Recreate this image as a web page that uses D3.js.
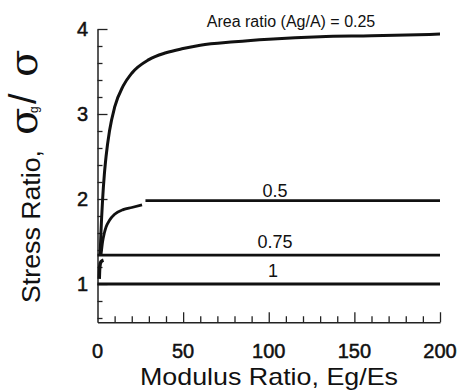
<!DOCTYPE html>
<html>
<head>
<meta charset="utf-8">
<script src="https://cdn.jsdelivr.net/npm/d3@7"></script>
<style>
  body { margin: 0; background: #fff; }
  text { font-family: "Liberation Sans", Arial, sans-serif; fill: #111; }
  .tick_label { stroke: #111; stroke-width: 0.5px; }
</style>
</head>
<body>
<div id="chart"></div>
<script>
// chart size
const width = 458;
const height = 392;

// data
const labels = ["Area ratio (Ag/A) = 0.25", "0.5", "0.75", "1"];

const modulus025 = [1.5, 2, 3, 4, 5, 7, 10, 15, 20, 30, 40, 50, 60, 80, 100, 130, 160, 200];
const stress025 = [1.33, 1.6, 2.0, 2.29, 2.5, 2.8, 3.08, 3.33, 3.48, 3.64, 3.72, 3.77, 3.81, 3.85, 3.88, 3.91, 3.92, 3.94];

const modulus05a = [2, 3, 4, 5, 7, 10, 15, 20, 26];
const stress05a = [1.33, 1.5, 1.6, 1.67, 1.75, 1.82, 1.875, 1.9, 1.93];
const modulus05b = [28, 200];
const stress05b = [1.98, 1.98];

const modulus075 = [0, 200];
const stress075 = [1.34, 1.34];
const modulus075s = [1, 1.3, 2, 3.5];
const stress075s = [1.06, 1.2, 1.26, 1.28];

const modulus1 = [0, 200];
const stress1 = [1, 1];

const xTickLabels = [0, 50, 100, 150, 200];
const yTickLabels = [1, 2, 3, 4];

var svg = d3.select("#chart").append("svg")
    .attr("width", width).attr("height", height);

var x = d3.scaleLinear().domain([0, 200]).range([97.5, 440]);
var y = d3.scaleLinear().domain([0.55, 4]).range([322.25, 29]);

// axes: ticks point inward
var xAxis = svg.append("g").attr("transform", "translate(0," + y(0.55) + ")");
xAxis.call(d3.axisTop(x).tickValues(d3.range(10, 201, 10))
    .tickSize(0).tickFormat(""));
xAxis.selectAll(".tick line")
    .attr("y2", d => d % 50 === 0 ? -10 : -6)
    .attr("stroke", "#222").attr("stroke-width", 1.3);
xAxis.select(".domain").attr("stroke", "#222").attr("stroke-width", 1.5);

var yAxis = svg.append("g").attr("transform", "translate(" + x(0) + ",0)");
yAxis.call(d3.axisRight(y).tickValues(d3.range(0.6, 4.01, 0.2).map(v => +v.toFixed(1)))
    .tickSize(0).tickFormat(""));
yAxis.selectAll(".tick line")
    .attr("x2", d => Math.abs(d - Math.round(d)) < 0.01 ? 10 : 5)
    .attr("stroke", "#222").attr("stroke-width", 1.3);
yAxis.select(".domain").attr("stroke", "#222").attr("stroke-width", 1.5);

// tick labels
svg.append("g").selectAll("text")
    .data(xTickLabels).enter().append("text")
    .attr("class", "tick_label")
    .attr("x", d => x(d)).attr("y", 358)
    .attr("text-anchor", "middle")
    .attr("font-size", 20)
    .text(d => d);

svg.append("g").selectAll("text")
    .data(yTickLabels).enter().append("text")
    .attr("class", "tick_label")
    .attr("x", 88).attr("y", d => y(d) + 7)
    .attr("text-anchor", "end")
    .attr("font-size", 20)
    .text(d => d);

// curves
var line = d3.line()
    .x(d => x(d[0]))
    .y(d => y(d[1]))
    .curve(d3.curveMonotoneX);

var series = [
    [modulus025, stress025, 3],
    [modulus05a, stress05a, 2.8],
    [modulus05b, stress05b, 2.8],
    [modulus075, stress075, 2.8],
    [modulus075s, stress075s, 3.5],
    [modulus1, stress1, 2.8]
];

svg.append("g").selectAll("path")
    .data(series).enter().append("path")
    .attr("d", d => line(d3.zip(d[0], d[1])))
    .attr("fill", "none")
    .attr("stroke", "#111")
    .attr("stroke-width", d => d[2]);

// curve labels
svg.append("text").attr("x", 291).attr("y", 27)
    .attr("text-anchor", "middle").attr("font-size", 16)
    .text(labels[0]);
svg.append("text").attr("x", 275).attr("y", 197)
    .attr("text-anchor", "middle").attr("font-size", 18)
    .text(labels[1]);
svg.append("text").attr("x", 275).attr("y", 248)
    .attr("text-anchor", "middle").attr("font-size", 18)
    .text(labels[2]);
svg.append("text").attr("x", 273).attr("y", 277)
    .attr("text-anchor", "middle").attr("font-size", 18)
    .text(labels[3]);

// axis titles
svg.append("text").attr("x", 140).attr("y", 385)
    .attr("font-size", 24)
    .attr("textLength", 258).attr("lengthAdjust", "spacingAndGlyphs")
    .text("Modulus Ratio, Eg/Es");

var yTitle = svg.append("g").attr("transform", "translate(40,303) rotate(-90)");
yTitle.append("text").attr("x", 0).attr("y", 0)
    .attr("font-size", 26)
    .attr("textLength", 153).attr("lengthAdjust", "spacingAndGlyphs")
    .text("Stress Ratio,");
var sig = yTitle.append("text").attr("y", -3)
    .style("font-family", "'DejaVu Serif', 'Liberation Serif', serif");
sig.append("tspan").attr("x", 168).attr("font-size", 40).text("σ");
sig.append("tspan").attr("x", 190).attr("y", -2).attr("font-size", 12)
    .style("font-family", "'Liberation Sans', Arial, sans-serif").text("g");
sig.append("tspan").attr("x", 199).attr("y", -4).attr("font-size", 38)
    .style("font-family", "'Liberation Sans', Arial, sans-serif").text("/");
sig.append("tspan").attr("x", 226).attr("y", -3).attr("font-size", 40).text("σ");
</script>
</body>
</html>
